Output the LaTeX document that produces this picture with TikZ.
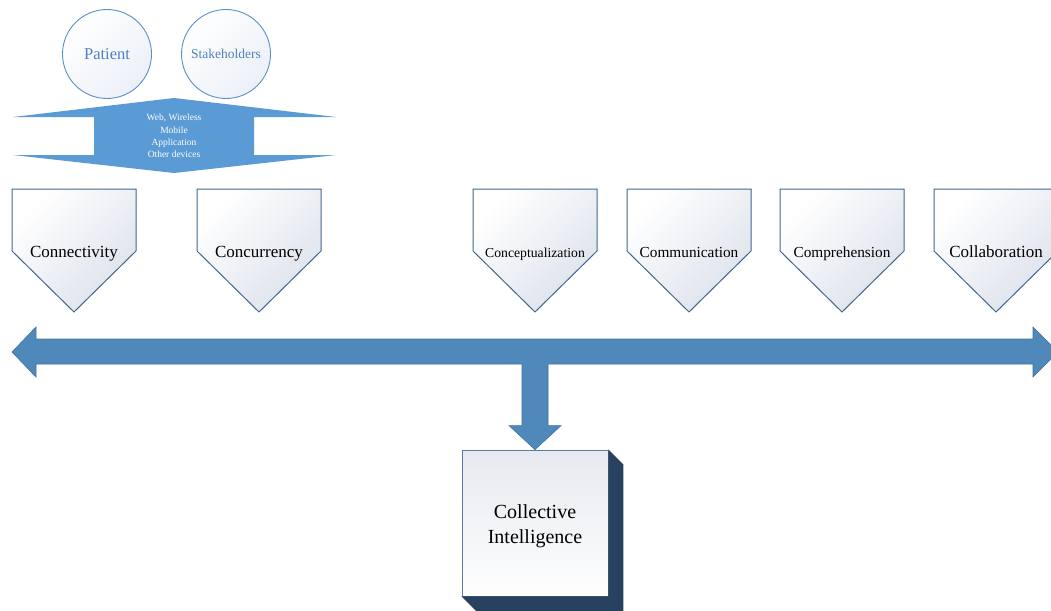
\documentclass[tikz,border=0pt]{standalone}
\usepackage{fontspec}
\setmainfont{Liberation Serif}
\usetikzlibrary{calc,positioning}
\definecolor{circline}{HTML}{5B8FC9}
\definecolor{circtext}{HTML}{4F81BD}
\definecolor{circfill}{HTML}{ECF0F7}
\definecolor{techblue}{HTML}{5B9BD5}
\definecolor{barblue}{HTML}{4F88BB}
\definecolor{barline}{HTML}{41719C}
\definecolor{pentline}{HTML}{41678F}
\definecolor{pentgray}{HTML}{DCE1EA}
\definecolor{cubeside}{HTML}{27415F}
\definecolor{cubeline}{HTML}{5A7BA3}
\definecolor{cubegray}{HTML}{E6E9EF}

\begin{document}
\begin{tikzpicture}[x=1pt,y=-1pt]
			\tikzset{actor/.style={circle,draw=circline,line width=0.9pt,top color=white,bottom color=circfill,shading angle=45,minimum size=89pt,inner sep=0pt,text=circtext}}
			\tikzset{pentagon/.style={draw=pentline,line width=1pt,top color=white,bottom color=pentgray,shading angle=45}}
			\tikzset{pentlabel/.style={inner sep=0pt,anchor=base}}
			\tikzset{bar/.style={fill=barblue,draw=barline,line width=0.6pt}}
			\tikzset{cube/.style={draw=cubeline,line width=0.8pt,top color=cubegray,bottom color=white!97!cubegray,minimum size=146pt,inner sep=0pt}}
			\clip (0,0) rectangle (1051,610);
			% actors
			\node[actor,font=\fontsize{16.5}{18}\selectfont] (patient) at (107,54) {Patient};
			\node[actor,font=\fontsize{13.5}{15}\selectfont] (stake) at (226,54) {Stakeholders};
			% technologies
			\fill[techblue] (174,98) -- (336,117) -- (254,117) -- (254,155) -- (336,155) -- (174,173) -- (13,155) -- (94,155) -- (94,117) -- (13,117) -- cycle;
			\node[text=white,align=center,font=\fontsize{9.5}{12.4}\selectfont] (tech) at (174,136) {Web, Wireless\\Mobile\\Application\\Other devices};
			% the six C's
			\foreach \x/\nm/\fs/\txt in {12/conn/17/Connectivity,197/conc/17/Concurrency,473/cept/13.7/Conceptualization,627/comm/15.3/Communication,780/comp/15.3/Comprehension,934/coll/17/Collaboration}
			{
				\path[pentagon] (\x,189) -- ++(124,0) -- ++(0,62) -- ++(-62,61) -- ++(-62,-61) -- cycle;
				\node[pentlabel,font=\fontsize{\fs}{\fs}\selectfont] (\nm) at (\x+62,257) {\txt};
			}
			% bus
			\path[bar] (12,352) -- (36,327) -- (36,339) -- (1033,339) -- (1033,327) -- (1058,352) -- (1033,377) -- (1033,364) -- (36,364) -- (36,377) -- cycle;
			\coordinate (stemtop) at (535,364);
			% result
			\node[cube] (ci) at (535,523) {};
			\node[align=center,font=\fontsize{20}{25}\selectfont] (citext) at ($(ci.center)+(0,3)$) {Collective\\Intelligence};
			\fill[cubeside] (ci.north east) -- ++(15,15) -- ($(ci.south east)+(15,15)$) -- ($(ci.south west)+(15,15)$) -- (ci.south west) -- (ci.south east) -- cycle;
			\fill[barblue] ($(stemtop)+(-13,-1)$) -- ($(ci.north)+(-13,-24)$) -- ($(ci.north)+(-26,-24)$) -- (ci.north) -- ($(ci.north)+(26,-24)$) -- ($(ci.north)+(13,-24)$) -- ($(stemtop)+(13,-1)$) -- cycle;
			\draw[barline,line width=0.6pt] ($(stemtop)+(-13,0)$) -- ($(ci.north)+(-13,-24)$) -- ($(ci.north)+(-26,-24)$) -- (ci.north) -- ($(ci.north)+(26,-24)$) -- ($(ci.north)+(13,-24)$) -- ($(stemtop)+(13,0)$);
		\end{tikzpicture}
\end{document}
